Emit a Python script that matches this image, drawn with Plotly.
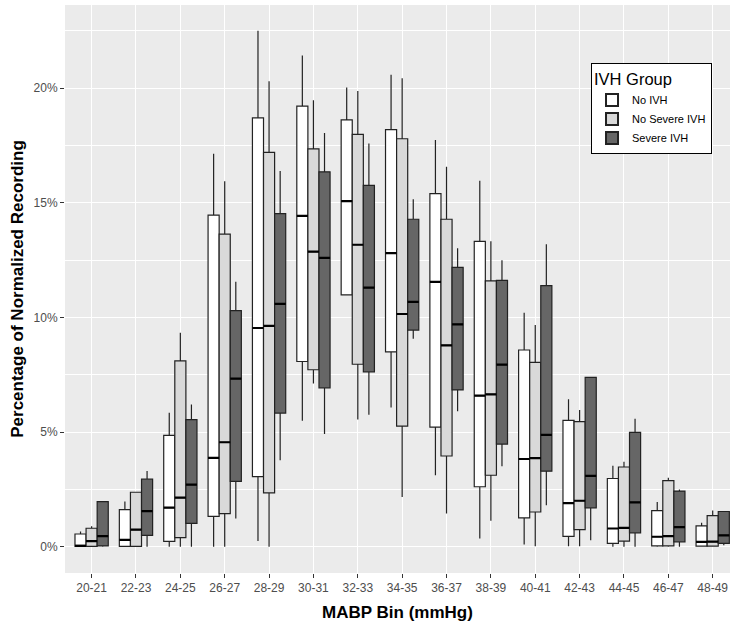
import plotly.graph_objects as go

bins = ["20-21", "22-23", "24-25", "26-27", "28-29", "30-31", "32-33", "34-35",
        "36-37", "38-39", "40-41", "42-43", "44-45", "46-47", "48-49"]

groups = ["No IVH", "No Severe IVH", "Severe IVH"]

# Percentages (%)
no_ivh_low = [0, 0, 0, 0, 0.26, 5.5, 10.98, 6.07, 3.12, 0.36, 0.1, 0.03, 0, 0, 0]
no_ivh_q1 = [0.02, 0.02, 0.24, 1.33, 3.06, 8.08, 10.98, 8.5, 5.22, 2.62, 1.26, 0.46, 0.15, 0.04, 0.03]
no_ivh_med = [0.04, 0.3, 1.71, 3.88, 9.54, 14.43, 15.07, 12.8, 11.55, 6.59, 3.83, 1.91, 0.8, 0.44, 0.22]
no_ivh_q3 = [0.56, 1.62, 4.86, 14.46, 18.7, 19.21, 18.61, 18.19, 15.4, 13.32, 8.58, 5.51, 2.98, 1.58, 0.91]
no_ivh_high = [0.67, 1.98, 5.85, 17.14, 22.5, 21.42, 20.02, 20.58, 17.73, 15.96, 10.2, 6.43, 3.54, 1.96, 1.05]

nsev_low = [0, 0, 0, 0, 0, 7.12, 5.55, 2.17, 1.45, 1.14, 0.03, 0.03, 0, 0, 0]
nsev_q1 = [0.02, 0.02, 0.4, 1.45, 2.35, 7.72, 7.96, 5.26, 3.96, 3.12, 1.52, 0.75, 0.25, 0.04, 0.03]
nsev_med = [0.25, 0.75, 2.15, 4.56, 9.63, 12.87, 13.17, 10.15, 8.78, 6.65, 3.87, 2.01, 0.83, 0.47, 0.23]
nsev_q3 = [0.81, 2.38, 8.11, 13.63, 17.2, 17.35, 17.98, 17.79, 14.28, 11.59, 8.04, 5.46, 3.48, 2.89, 1.36]
nsev_high = [0.9, 2.38, 9.33, 15.94, 20.3, 19.47, 19.87, 20.43, 16.57, 13.32, 9.67, 5.97, 3.71, 3.01, 1.58]

sev_low = [0, 0, 0, 1.24, 3.78, 4.92, 5.76, 9.07, 5.91, 3.51, 1.81, 0.29, 0, 0, 0.07]
sev_q1 = [0.04, 0.5, 1.02, 2.85, 5.83, 6.93, 7.63, 9.45, 6.84, 4.48, 3.3, 1.7, 0.61, 0.22, 0.15]
sev_med = [0.47, 1.56, 2.71, 7.33, 10.59, 12.6, 11.3, 10.68, 9.7, 7.94, 4.88, 3.09, 1.94, 0.86, 0.5]
sev_q3 = [1.97, 2.95, 5.55, 10.3, 14.53, 16.35, 15.76, 14.28, 12.18, 11.62, 11.39, 7.39, 4.99, 2.43, 1.54]
sev_high = [1.97, 3.31, 6.2, 11.56, 16.38, 18.04, 17.58, 15.15, 13.02, 12.49, 13.19, 7.39, 5.58, 2.5, 1.54]

y_ticks = [0, 5, 10, 15, 20]
y_tick_text = ["0%", "5%", "10%", "15%", "20%"]

series = [
    (groups[0], "#FFFFFF", no_ivh_low, no_ivh_q1, no_ivh_med, no_ivh_q3, no_ivh_high),
    (groups[1], "#D9D9D9", nsev_low, nsev_q1, nsev_med, nsev_q3, nsev_high),
    (groups[2], "#666666", sev_low, sev_q1, sev_med, sev_q3, sev_high),
]

fig = go.Figure()
for i, (name, fill, lo, q1, med, q3, hi) in enumerate(series):
    fig.add_trace(go.Box(
        x=bins, name=name, q1=q1, median=med, q3=q3,
        lowerfence=lo, upperfence=hi,
        fillcolor=fill, line=dict(color="#222222", width=1.2),
        whiskerwidth=0, boxpoints=False, offsetgroup=str(i),
        hoverinfo="skip",
    ))
# thicker median lines (ggplot style)
for i, (name, fill, lo, q1, med, q3, hi) in enumerate(series):
    fig.add_trace(go.Box(
        x=bins, name=name + " median", q1=med, median=med, q3=med,
        lowerfence=med, upperfence=med,
        fillcolor="rgba(0,0,0,0)", line=dict(color="#000000", width=2.2),
        whiskerwidth=0, boxpoints=False, offsetgroup=str(i),
        showlegend=False, hoverinfo="skip",
    ))

fig.update_layout(
    width=743, height=628,
    margin=dict(l=65, r=13, t=5, b=55, autoexpand=False),
    paper_bgcolor="white",
    plot_bgcolor="#EBEBEB",
    boxmode="group", boxgap=0.25, boxgroupgap=0,
    font=dict(family="Liberation Sans, Arial, sans-serif", color="#000000"),
    showlegend=True,
    legend=dict(
        title=dict(text="IVH Group", font=dict(size=16.5, color="#000000")),
        font=dict(size=11, color="#000000"),
        x=0.791, y=0.898, xanchor="left", yanchor="top",
        bgcolor="white", bordercolor="#000000", borderwidth=1,
        tracegroupgap=0, itemsizing="constant", itemwidth=30,
    ),
    xaxis=dict(
        type="category", categoryorder="array", categoryarray=bins,
        range=[-0.6, 14.39], automargin=False,
        showgrid=True, gridcolor="white", gridwidth=1.1,
        ticks="outside", ticklen=4, tickcolor="#333333", tickwidth=1,
        tickfont=dict(size=12, color="#4D4D4D"),
        title=dict(text="<b>MABP Bin (mmHg)</b>", font=dict(size=17, color="#000000"), standoff=11),
        zeroline=False, showline=False,
    ),
    yaxis=dict(
        range=[-1.14, 23.62], automargin=False,
        tickvals=y_ticks, ticktext=y_tick_text,
        showgrid=True, gridcolor="white", gridwidth=1.1,
        minor=dict(dtick=2.5, tick0=2.5, showgrid=True, gridcolor="white", gridwidth=0.5, ticks=""),
        ticks="outside", ticklen=4, tickcolor="#333333", tickwidth=1,
        tickfont=dict(size=12, color="#4D4D4D"),
        title=dict(text="<b>Percentage of Normalized Recording</b>", font=dict(size=17, color="#000000"), standoff=5),
        zeroline=False, showline=False,
    ),
)

fig.write_html("out.html", config={"displayModeBar": False},
               post_script="document.body.style.margin='0';document.body.style.padding='0';")
